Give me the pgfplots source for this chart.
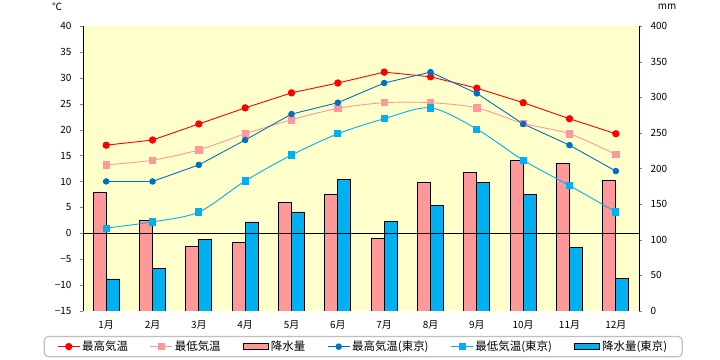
\documentclass[border=0pt]{standalone}
\usepackage{fontspec}
\setmainfont{Noto Sans CJK JP}
\usepackage{pgfplots}
\pgfplotsset{compat=1.18}
\definecolor{bgy}{HTML}{FFFFCC}
\definecolor{redl}{HTML}{FF0000}
\definecolor{pinkl}{HTML}{FF9999}
\definecolor{dblue}{HTML}{0070C0}
\definecolor{lblue}{HTML}{00B0F0}
\pgfplotsset{
  linelegend/.style={legend image code/.code={\draw[mark repeat=2,mark phase=2,##1] plot coordinates {(0bp,0bp) (11bp,0bp) (22bp,0bp)};}},
  barlegend/.style={legend image code/.code={\draw[##1,sharp corners] (0bp,-3bp) rectangle (25bp,3bp);}},
}
\begin{document}
\begin{tikzpicture}
% precipitation axis (right)
\begin{axis}[
  at={(0,0)}, anchor=south west,
  scale only axis, width=556bp, height=285bp,
  xmin=0, xmax=12, ymin=0, ymax=400,
  axis y line*=right, axis x line=none,
  ytick={0,50,...,400},
  tick align=outside, major tick length=3bp,
  yticklabel style={xshift=5bp},
  tick label style={font=\fontsize{10}{12}\selectfont},
  /pgf/number format/assume math mode=true,
  axis background/.style={fill=bgy},
  axis line style={line width=0.9pt},
]
\addplot[ybar, bar width=13bp, bar shift=-6.5bp, fill=pinkl, draw=black, line width=0.8pt] coordinates {
(0.5,167) (1.5,127) (2.5,91) (3.5,96) (4.5,152) (5.5,164) (6.5,102) (7.5,181) (8.5,195) (9.5,211) (10.5,207) (11.5,183)};
\addplot[ybar, bar width=13bp, bar shift=6.5bp, fill=lblue, draw=black, line width=0.8pt] coordinates {
(0.5,45) (1.5,60) (2.5,101) (3.5,125) (4.5,139) (5.5,185) (6.5,126) (7.5,148) (8.5,181) (9.5,164) (10.5,89) (11.5,46)};
\end{axis}
% temperature axis (left)
\begin{axis}[
  at={(0,0)}, anchor=south west,
  scale only axis, width=556bp, height=285bp,
  xmin=0, xmax=12, ymin=-15, ymax=40,
  axis y line*=left, axis x line*=bottom,
  x axis line style={draw=none},
  major x tick style={draw=none},
  xtick={0.5,1.5,2.5,3.5,4.5,5.5,6.5,7.5,8.5,9.5,10.5,11.5},
  xticklabels={1月,2月,3月,4月,5月,6月,7月,8月,9月,10月,11月,12月},
  xticklabel style={yshift=-3bp},
  ytick={-15,-10,-5,0,5,10,15,20,25,30,35,40},
  yticklabels={−15,−10,−5,0,5,10,15,20,25,30,35,40},
  yticklabel style={xshift=-5bp},
  tick align=outside, major tick length=3bp,
  tick label style={font=\fontsize{10}{12}\selectfont},
  axis line style={line width=0.9pt},
  legend columns=6,
  legend style={at={(0.504,-0.125)}, anchor=center, draw=black!25, line width=1.2pt,
    rounded corners=4bp, font=\fontsize{11.5}{13}\selectfont,
    inner ysep=2.5bp, inner xsep=13bp,
    /tikz/every even column/.append style={column sep=20bp}},
  legend cell align=left,
]
\addplot[black, line width=0.8pt, forget plot] coordinates {(0,0) (12,0)};
\addplot[redl, line width=0.9pt, mark=*, mark size=3.2pt, linelegend] coordinates {
(0.5,17.0) (1.5,18.0) (2.5,21.1) (3.5,24.2) (4.5,27.1) (5.5,29.0) (6.5,31.1) (7.5,30.2) (8.5,28.0) (9.5,25.2) (10.5,22.1) (11.5,19.2)};
\addlegendentry{最高気温}
\addplot[pinkl, line width=0.9pt, smooth, mark=square*, mark size=3.2pt, linelegend] coordinates {
(0.5,13.2) (1.5,14.1) (2.5,16.1) (3.5,19.2) (4.5,21.9) (5.5,24.1) (6.5,25.2) (7.5,25.2) (8.5,24.2) (9.5,21.2) (10.5,19.2) (11.5,15.2)};
\addlegendentry{最低気温}
\addlegendimage{barlegend, fill=pinkl, draw=black, line width=1.2pt}
\addlegendentry{降水量}
\addplot[dblue, line width=0.9pt, mark=*, mark size=2.8pt, linelegend] coordinates {
(0.5,10.0) (1.5,10.0) (2.5,13.2) (3.5,18.0) (4.5,23.0) (5.5,25.2) (6.5,29.0) (7.5,31.1) (8.5,27.0) (9.5,21.1) (10.5,17.0) (11.5,12.0)};
\addlegendentry{最高気温(東京)}
\addplot[lblue, line width=0.9pt, smooth, mark=square*, mark size=3.1pt, linelegend] coordinates {
(0.5,1.0) (1.5,2.2) (2.5,4.1) (3.5,10.1) (4.5,15.1) (5.5,19.2) (6.5,22.1) (7.5,24.2) (8.5,20.1) (9.5,14.1) (10.5,9.2) (11.5,4.1)};
\addlegendentry{最低気温(東京)}
\addlegendimage{barlegend, fill=lblue, draw=black, line width=1.2pt}
\addlegendentry{降水量(東京)}
\end{axis}
\node[font=\fontsize{10}{12}\selectfont] at (-26bp,304bp) {℃};
\node[font=\fontsize{10}{12}\selectfont] at (584bp,304bp) {mm};
\pgfresetboundingbox
\path[use as bounding box] (-83bp,-49bp) rectangle (637bp,311bp);
\end{tikzpicture}
\end{document}
